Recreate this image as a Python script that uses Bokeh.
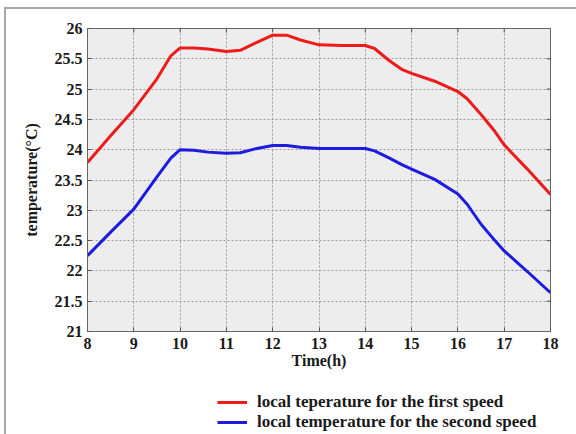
from bokeh.embed import file_html
from bokeh.layouts import column
from bokeh.models import (ColumnDataSource, FixedTicker, Legend, LegendItem,
                          Range1d)
from bokeh.plotting import figure
from bokeh.resources import INLINE

# Hourly temperature readings (h, °C)
hours = [8, 8.5, 9, 9.5, 9.8, 10, 10.3, 10.6, 11, 11.3, 11.6, 12, 12.3, 12.6,
         13, 13.5, 14, 14.2, 14.5, 14.8, 15, 15.5, 16, 16.2, 16.5, 16.8, 17,
         17.5, 18]
temp_first_speed = [23.79, 24.23, 24.66, 25.17, 25.55, 25.68, 25.68, 25.66,
                    25.62, 25.64, 25.75, 25.89, 25.89, 25.81, 25.73, 25.72,
                    25.72, 25.67, 25.48, 25.32, 25.26, 25.13, 24.96, 24.84,
                    24.58, 24.30, 24.08, 23.68, 23.26]
temp_second_speed = [22.25, 22.64, 23.02, 23.55, 23.86, 24.00, 23.99, 23.96,
                     23.94, 23.95, 24.01, 24.07, 24.07, 24.04, 24.02, 24.02,
                     24.02, 23.98, 23.87, 23.75, 23.68, 23.51, 23.27, 23.10,
                     22.77, 22.50, 22.33, 21.99, 21.64]

x_ticks = [8, 9, 10, 11, 12, 13, 14, 15, 16, 17, 18]
y_ticks = [21, 21.5, 22, 22.5, 23, 23.5, 24, 24.5, 25, 25.5, 26]
y_tick_labels = ["21", "21.5", "22", "22.5", "23", "23.5", "24", "24.5",
                 "25", "25.5", "26"]

series_labels = ["local teperature for the first speed",
                 "local temperature for the second speed"]
series_colors = ["#ee1b1b", "#1c1ce0"]

FONT = "Liberation Serif"
INK = "#1a1a1a"
X0, X1, Y0, Y1 = 8, 18, 21, 26

src = ColumnDataSource(dict(t=hours, a=temp_first_speed, b=temp_second_speed))

# ---- main chart ----
p = figure(width=570, height=372, output_backend="svg", toolbar_location=None,
           x_range=Range1d(X0, X1), y_range=Range1d(Y0, Y1),
           min_border_left=81, min_border_right=26, min_border_top=19,
           min_border_bottom=50, background_fill_color="#ededed",
           border_fill_color="white", outline_line_color="#666666")

p.grid.grid_line_color = "#9a9a9a"
p.grid.grid_line_dash = "2 2"
p.grid.grid_line_width = 1
p.xgrid.ticker = FixedTicker(ticks=x_ticks)
p.ygrid.ticker = FixedTicker(ticks=y_ticks)

# short inward tick marks mirrored on the top and right edges
tick_dx = (X1 - X0) * 4 / 463
tick_dy = (Y1 - Y0) * 4 / 303
p.segment(x0=x_ticks, y0=[Y1] * len(x_ticks), x1=x_ticks,
          y1=[Y1 - tick_dy] * len(x_ticks), line_color="#555555", line_width=1)
p.segment(x0=[X1] * len(y_ticks), y0=y_ticks, x1=[X1 - tick_dx] * len(y_ticks),
          y1=y_ticks, line_color="#555555", line_width=1)

p.line("t", "a", source=src, color=series_colors[0], line_width=3)
p.line("t", "b", source=src, color=series_colors[1], line_width=3)

for ax in (p.xaxis[0], p.yaxis[0]):
    ax.axis_line_color = "#666666"
    ax.major_tick_in = 4
    ax.major_tick_out = 0
    ax.major_tick_line_color = "#555555"
    ax.minor_tick_line_color = None
    ax.major_label_text_font = FONT
    ax.major_label_text_font_style = "bold"
    ax.major_label_text_font_size = "16px"
    ax.major_label_text_color = INK
    ax.axis_label_text_font = FONT
    ax.axis_label_text_font_style = "bold"
    ax.axis_label_text_font_size = "16px"
    ax.axis_label_text_color = INK

p.xaxis.ticker = FixedTicker(ticks=x_ticks)
p.yaxis.ticker = FixedTicker(ticks=y_ticks)
p.yaxis.major_label_overrides = {v: s for v, s in zip(y_ticks, y_tick_labels)}
p.xaxis.major_label_standoff = 6
p.yaxis.major_label_standoff = 5

p.xaxis.axis_label = "Time(h)"
p.xaxis.axis_label_standoff = 0
p.yaxis.axis_label = "temperature(°C)"
p.yaxis.axis_label_standoff = 12

# ---- legend strip underneath (its frame lines up with the chart's frame) ----
leg = figure(width=570, height=53, output_backend="svg", toolbar_location=None,
             x_axis_location=None, y_axis_location=None,
             x_range=Range1d(0, 1), y_range=Range1d(0, 1),
             min_border=0, outline_line_color=None,
             background_fill_color="white", border_fill_color="white")
leg.grid.visible = False
# one-point lines: nothing shows in the strip, they only supply the key glyphs
k1 = leg.line(x=[-1], y=[-1], color=series_colors[0], line_width=3)
k2 = leg.line(x=[-1], y=[-1], color=series_colors[1], line_width=3)

legend = Legend(items=[LegendItem(label=series_labels[0], renderers=[k1]),
                       LegendItem(label=series_labels[1], renderers=[k2])],
                location=(130, 2), orientation="vertical",
                label_text_font=FONT, label_text_font_style="bold",
                label_text_font_size="17px", label_text_color=INK,
                glyph_width=30, glyph_height=20, label_height=20,
                label_standoff=10, spacing=0, padding=3, margin=0,
                border_line_color=None, background_fill_alpha=0)
leg.add_layout(legend, "center")

page = column(p, leg, spacing=0,
              styles={"border-top": "2px solid #a9a9a9",
                      "border-left": "2px solid #a9a9a9",
                      "margin-top": "7px", "margin-left": "4px"})

open("out.html", "w").write(file_html(page, INLINE))
